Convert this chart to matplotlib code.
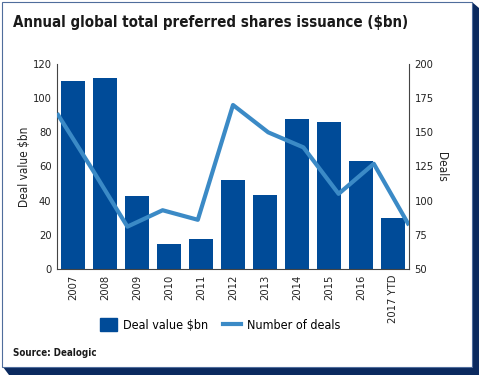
import matplotlib
matplotlib.use("Agg")
import matplotlib.pyplot as plt
from matplotlib.patches import Rectangle, Polygon
from matplotlib.lines import Line2D
import numpy as np

years = ["2007", "2008", "2009", "2010", "2011", "2012", "2013", "2014", "2015", "2016", "2017 YTD"]
deal_value = [110, 112, 43, 14.5, 17.5, 52, 43.5, 88, 86, 63, 30]
num_deals = [164, 123, 81, 93, 86, 170, 150, 139, 105, 127, 82]

plt.rcParams['font.family'] = ['DejaVu Sans']
plt.rcParams['font.stretch'] = 'condensed'

BAR = '#004b98'
LINE = '#3b8ac6'
NAVY = '#0b2a5f'
TXT = '#222222'

fig = plt.figure(figsize=(4.8, 3.77), dpi=100)
W, H = 480, 377

def px(x, y):
    return x / W, 1 - y / H

# frame shadow
shadow = Polygon([px(472, 2), px(479, 8), px(479, 375), px(9, 375), px(3, 367), px(472, 367)],
                 closed=True, transform=fig.transFigure, facecolor=NAVY, edgecolor='none', zorder=0)
fig.patches.append(shadow)
box = Rectangle(px(2, 367), 470 / W, 365 / H, transform=fig.transFigure,
                facecolor='white', edgecolor='#4f6d9c', linewidth=0.8, zorder=0.5)
fig.patches.append(box)

l, r, t, b = 57, 409, 64, 269
pos = [l / W, 1 - b / H, (r - l) / W, (b - t) / H]
ax = fig.add_axes(pos)
ax.set_zorder(2)
ax.patch.set_alpha(0)
x = np.arange(len(years))
ax.bar(x, deal_value, width=0.73, color=BAR, zorder=2)
ax.set_xlim(-0.5, len(years) - 0.5)
ax.set_ylim(0, 120)
ax.set_yticks([0, 20, 40, 60, 80, 100, 120])
ax.set_xticks(x)
ax.set_xticklabels(years, rotation=90, fontsize=8, color=TXT)
ax.tick_params(axis='both', length=0, labelsize=8, colors=TXT, pad=4)
ax.spines['top'].set_visible(False)
ax.spines['right'].set_visible(False)
for s in ['left', 'bottom']:
    ax.spines[s].set_color('#444444')
    ax.spines[s].set_linewidth(0.8)
ax.set_ylabel('Deal value $bn', fontsize=8.5, color=TXT, labelpad=1)

ax2 = fig.add_axes(pos)
ax2.set_zorder(3)
ax2.patch.set_alpha(0)
ax2.plot(np.arange(len(num_deals)), num_deals, color=LINE, linewidth=3, solid_capstyle='butt', zorder=3)
ax2.set_xlim(0, len(num_deals) - 1)
ax2.set_ylim(50, 200)
ax2.set_yticks([50, 75, 100, 125, 150, 175, 200])
ax2.yaxis.tick_right()
ax2.yaxis.set_label_position('right')
ax2.set_xticks([])
for s in ['top', 'left', 'bottom']:
    ax2.spines[s].set_visible(False)
ax2.spines['right'].set_color('#444444')
ax2.spines['right'].set_linewidth(0.8)
ax2.tick_params(axis='y', length=0, labelsize=8, colors=TXT, pad=4)
ax2.set_ylabel('Deals', fontsize=8.5, color=TXT, rotation=270, labelpad=10)

fig.text(13 / W, 1 - 22 / H, 'Annual global total preferred shares issuance ($bn)',
         fontsize=10.8, fontweight='bold', color='#1a1a1a', va='center', ha='left')
fig.text(13 / W, 1 - 353 / H, 'Source: Dealogic', fontsize=7, fontweight='bold',
         color='#1a1a1a', va='center', ha='left')

handles = [Rectangle((0, 0), 1, 1, color=BAR),
           Line2D([0], [0], color=LINE, linewidth=3)]
leg = fig.legend(handles, ['Deal value $bn', 'Number of deals'], loc='center',
           bbox_to_anchor=(220 / W, 1 - 325 / H), ncol=2, frameon=False,
           fontsize=9, handlelength=1.4, handleheight=1.2, columnspacing=1.2,
           handletextpad=0.5)
leg.set_zorder(3)

fig.savefig('out.png', dpi=100)
